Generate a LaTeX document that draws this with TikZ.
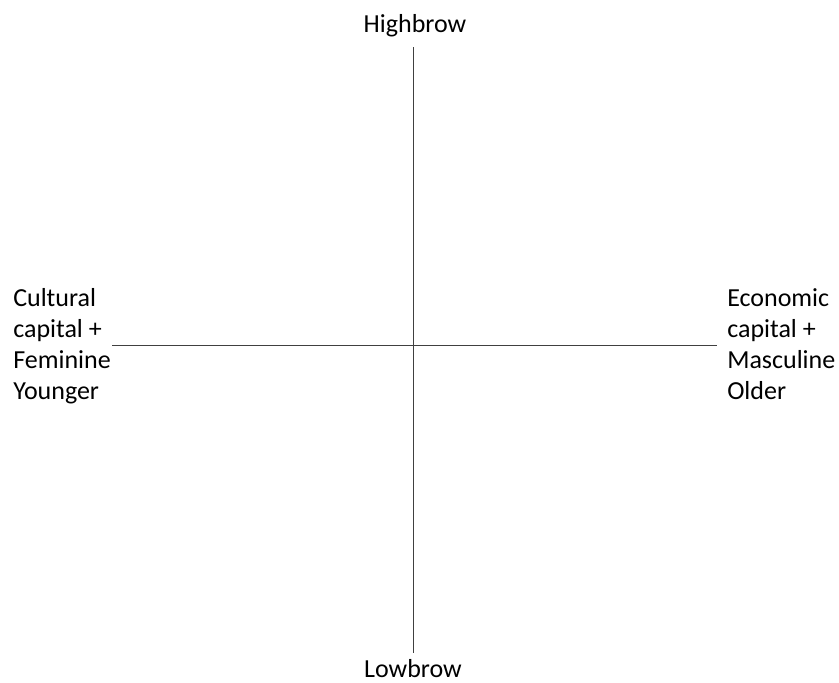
\documentclass[tikz,border=0pt]{standalone}
\usepackage{fontspec}
\setmainfont{Carlito}
\usepackage{tikz}

\begin{document}
\begin{tikzpicture}[x=0.75pt,y=-0.75pt]
\tikzstyle{every node}+=[inner sep=0pt,font=\fontsize{19.5}{23.25}\selectfont]
\tikzstyle{axis}=[draw=black!75,line width=0.75pt]
\tikzstyle{pole}=[align=left,anchor=base west]
\useasboundingbox (0,0) rectangle (839,682);
% axes
\coordinate (top) at (413,47);
\coordinate (bottom) at (413,653);
\coordinate (left) at (112,345);
\coordinate (right) at (717,345);
\draw [axis] (top) -- (bottom);
\draw [axis] (left) -- (right);
% labels
\node (high) [anchor=base] at (415,32) {Highbrow};
\node (low) [anchor=base] at (413,677) {Lowbrow};
\node (cult) [pole] at (13,399) {Cultural\\capital +\\Feminine\\Younger};
\node (econ) [pole] at (727,399) {Economic\\capital +\\Masculine\\Older};
\end{tikzpicture}
\end{document}
